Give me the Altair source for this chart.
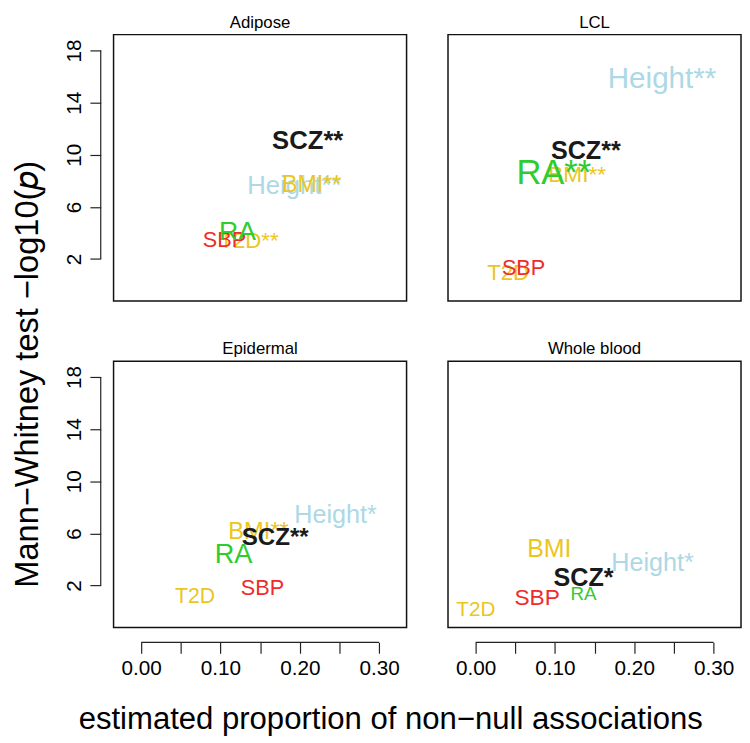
import altair as alt
import pandas as pd

# ---- data ----
panel_order = ["Adipose", "LCL", "Epidermal", "Whole blood"]
trait_order = ["Height", "BMI", "T2D", "SBP", "RA", "SCZ"]
trait_colors = ["#ADD8E6", "#EBC61E", "#EBC61E", "#EE2C2C", "#2ECC2E", "#1A1A1A"]

adipose_labels = ["Height**", "BMI**", "T2D**", "SBP", "RA", "SCZ**"]
adipose_x = [0.193, 0.215, 0.136, 0.105, 0.1215, 0.210]
adipose_y = [7.56, 7.64, 3.35, 3.44, 4.03, 11.05]
adipose_size = [26, 23.5, 22.5, 22, 27, 26]

lcl_labels = ["Height**", "BMI**", "T2D", "SBP", "RA**", "SCZ**"]
lcl_x = [0.235, 0.128, 0.041, 0.0605, 0.0986, 0.139]
lcl_y = [15.78, 8.45, 0.92, 1.32, 8.58, 10.27]
lcl_size = [30, 23, 22.5, 22, 35, 25.5]

epidermal_labels = ["Height*", "BMI**", "T2D", "SBP", "RA", "SCZ**"]
epidermal_x = [0.245, 0.148, 0.068, 0.153, 0.1165, 0.169]
epidermal_y = [7.40, 6.09, 1.12, 1.78, 4.34, 5.64]
epidermal_size = [25.5, 24, 21.5, 22, 27.5, 24.5]

blood_labels = ["Height*", "BMI", "T2D", "SBP", "RA", "SCZ*"]
blood_x = [0.223, 0.093, 0.0004, 0.0775, 0.136, 0.136]
blood_y = [3.71, 4.77, 0.12, 1.07, 1.35, 2.58]
blood_size = [25.5, 25.3, 21, 23, 19, 25.5]

x_ticks = [0.0, 0.05, 0.10, 0.15, 0.20, 0.25, 0.30]
y_ticks = [2, 6, 10, 14, 18]
x_domain = [-0.0348, 0.3346]
y_domain = [-1.22, 19.22]

x_title = "estimated proportion of non\u2212null associations"
y_title = "Mann\u2212Whitney test \u2212log10(\U0001D45D)"

rows = []
for name, labs, xs, ys, ss in [
    ("Adipose", adipose_labels, adipose_x, adipose_y, adipose_size),
    ("LCL", lcl_labels, lcl_x, lcl_y, lcl_size),
    ("Epidermal", epidermal_labels, epidermal_x, epidermal_y, epidermal_size),
    ("Whole blood", blood_labels, blood_x, blood_y, blood_size),
]:
    for i, (lab, xv, yv, sv) in enumerate(zip(labs, xs, ys, ss)):
        rows.append({"panel": name, "trait": trait_order[i], "label": lab,
                     "x": xv, "y": yv, "fs": sv, "order": i})
df = pd.DataFrame(rows)

FONT = "Liberation Sans"
W, H = 297, 270
INK = "#222222"


def panel(name, show_x, show_y):
    sub = df[df.panel == name]
    xaxis = alt.Axis(values=x_ticks, domain=False, offset=15, tickSize=11,
                     tickColor=INK, tickWidth=1.2, labelFontSize=21, labelFont=FONT,
                     labelColor="#000000", labelPadding=5, labelOverlap=False,
                     labelFlush=False, grid=False, title=None,
                     labelExpr="(round(datum.value*100) % 10 == 0) ? format(datum.value, '.2f') : ''") if show_x else None
    yaxis = alt.Axis(values=y_ticks, domain=False, offset=13, tickSize=11,
                     tickColor=INK, tickWidth=1.2, labelFontSize=21, labelFont=FONT,
                     labelColor="#000000", labelPadding=5, labelAngle=-90,
                     labelAlign="center", labelBaseline="bottom", labelOverlap=False,
                     labelFlush=False, grid=False, title=None, format="d") if show_y else None
    xs = alt.Scale(domain=x_domain, nice=False, zero=False)
    ys = alt.Scale(domain=y_domain, nice=False, zero=False)
    color = alt.Color("trait:N", scale=alt.Scale(domain=trait_order, range=trait_colors), legend=None)

    base = alt.Chart(sub)
    normal = base.transform_filter(alt.datum.trait != "SCZ").mark_text(
        font=FONT, baseline="middle", align="center").encode(
        x=alt.X("x:Q", scale=xs, axis=xaxis),
        y=alt.Y("y:Q", scale=ys, axis=yaxis),
        text="label:N",
        size=alt.Size("fs:Q", scale=None, legend=None),
        color=color,
        order="order:Q",
    )
    bold = base.transform_filter(alt.datum.trait == "SCZ").mark_text(
        font=FONT, fontWeight="bold", baseline="middle", align="center").encode(
        x=alt.X("x:Q", scale=xs, axis=xaxis),
        y=alt.Y("y:Q", scale=ys, axis=yaxis),
        text="label:N",
        size=alt.Size("fs:Q", scale=None, legend=None),
        color=color,
    )
    layers = [normal, bold]
    if show_x:
        xr = alt.Chart(pd.DataFrame({"a": [x_ticks[0]], "b": [x_ticks[-1]]})).mark_rule(
            color=INK, strokeWidth=1.2).encode(
            x=alt.X("a:Q", scale=xs), x2="b:Q", y=alt.value(H + 15))
        layers.append(xr)
    if show_y:
        yr = alt.Chart(pd.DataFrame({"a": [y_ticks[0]], "b": [y_ticks[-1]]})).mark_rule(
            color=INK, strokeWidth=1.2).encode(
            y=alt.Y("a:Q", scale=ys), y2="b:Q", x=alt.value(-13))
        layers.append(yr)
    return alt.layer(*layers).properties(
        width=W, height=H,
        title=alt.TitleParams(name, fontSize=17, font=FONT, fontWeight="normal",
                              color="#000000", offset=3, anchor="middle"))


top = alt.hconcat(panel("Adipose", False, True), panel("LCL", False, False), spacing=40)
bottom = alt.hconcat(panel("Epidermal", True, True), panel("Whole blood", True, False), spacing=40)
grid = alt.vconcat(top, bottom, spacing=38).properties(
    title=alt.TitleParams(x_title, orient="bottom", fontSize=31.5, font=FONT,
                          fontWeight="normal", color="#000000", offset=25,
                          anchor="middle", dx=-12))
chart = alt.vconcat(grid).properties(
    title=alt.TitleParams(y_title, orient="left", fontSize=33, font=FONT,
                          fontWeight="normal", color="#000000", offset=19,
                          anchor="middle"),
    padding={"left": 4, "top": 0, "right": 0, "bottom": 0},
).configure_view(stroke="#111111", strokeWidth=1.5).configure_concat(spacing=0)

chart.save("out.html", embed_options={"renderer": "svg", "actions": False})
